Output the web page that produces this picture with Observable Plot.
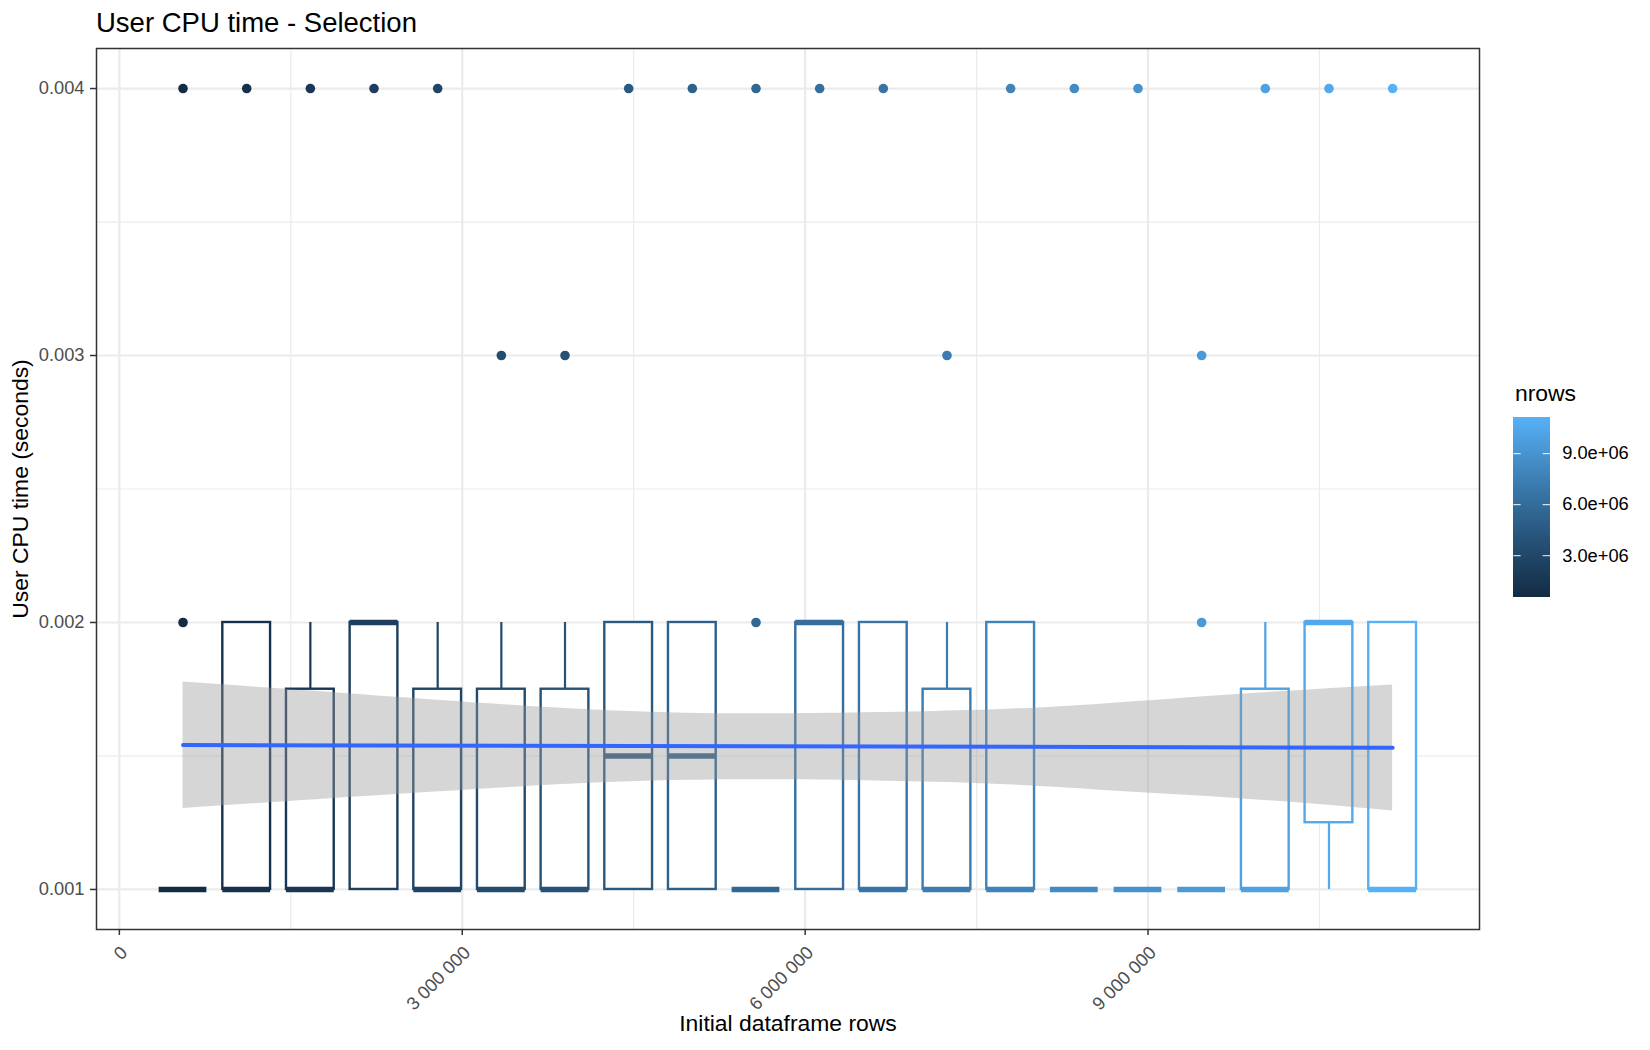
<!DOCTYPE html>
<html><head><meta charset="utf-8">
<script src="https://cdn.jsdelivr.net/npm/d3@7"></script>
<script src="https://cdn.jsdelivr.net/npm/@observablehq/plot@0.6"></script>
<style>
html,body{margin:0;padding:0;background:#fff;}
body{width:1650px;height:1050px;position:relative;overflow:hidden;font-family:"Liberation Sans",Arial,Helvetica,sans-serif;}
#title{position:absolute;left:96px;top:8.7px;font-size:27.5px;line-height:1;color:#000;white-space:nowrap;}
#chart{position:absolute;left:0;top:0;}
#legend{position:absolute;left:1490px;top:370px;}
#legtitle{position:absolute;left:1515px;top:382px;font-size:22.9px;line-height:1;color:#000;}
</style></head><body>
<div id="chart"></div>
<div id="title">User CPU time - Selection</div>
<div id="legend"></div>
<div id="legtitle">nrows</div>
<script>
// ---- data ----
const nrows = [557000, 1114000, 1671000, 2228000, 2785000, 3342000, 3899000, 4456000, 5013000, 5570000,
               6127000, 6684000, 7241000, 7798000, 8355000, 8912000, 9469000, 10026000, 10583000, 11140000];
const whiskerLow  = [0.001,0.001,0.001,0.001,0.001,0.001,0.001,0.001,0.001,0.001,0.001,0.001,0.001,0.001,0.001,0.001,0.001,0.001,0.001,0.001];
const q1          = [0.001,0.001,0.001,0.001,0.001,0.001,0.001,0.001,0.001,0.001,0.001,0.001,0.001,0.001,0.001,0.001,0.001,0.001,0.00125,0.001];
const median      = [0.001,0.001,0.001,0.002,0.001,0.001,0.001,0.0015,0.0015,0.001,0.002,0.001,0.001,0.001,0.001,0.001,0.001,0.001,0.002,0.001];
const q3          = [0.001,0.002,0.00175,0.002,0.00175,0.00175,0.00175,0.002,0.002,0.001,0.002,0.002,0.00175,0.002,0.001,0.001,0.001,0.00175,0.002,0.002];
const whiskerHigh = [0.001,0.002,0.002,0.002,0.002,0.002,0.002,0.002,0.002,0.001,0.002,0.002,0.002,0.002,0.001,0.001,0.001,0.002,0.002,0.002];

const outlierRows = [557000, 557000, 1114000, 1671000, 2228000, 2785000, 3342000, 3899000, 4456000, 5013000,
                     5570000, 5570000, 6127000, 6684000, 7241000, 7798000, 8355000, 8912000, 9469000, 9469000,
                     10026000, 10583000, 11140000];
const outlierTime = [0.002, 0.004, 0.004, 0.004, 0.004, 0.004, 0.003, 0.003, 0.004, 0.004,
                     0.002, 0.004, 0.004, 0.004, 0.003, 0.004, 0.004, 0.004, 0.002, 0.003,
                     0.004, 0.004, 0.004];

// linear smooth (geom_smooth, method = "lm")
const smoothX  = [557000, 1875000, 3537000, 4648000, 5810000, 7420000, 8585000, 9810000, 11140000];
const smoothLo = [0.001303, 0.001341, 0.001385, 0.001406, 0.001411, 0.001398, 0.001372, 0.001340, 0.001294];
const smoothHi = [0.001777, 0.001737, 0.001687, 0.001664, 0.001658, 0.001670, 0.001694, 0.001731, 0.001766];
const trendX = [557000, 11140000];
const trendY = [0.001541, 0.001531];

const xTicks = [0, 3000000, 6000000, 9000000];
const xMinor = [1500000, 4500000, 7500000, 10500000];
const yTicks = [0.001, 0.002, 0.003, 0.004];
const yMinor = [0.0015, 0.0025, 0.0035];
const legendTicks = [3000000, 6000000, 9000000];

// ---- build tables ----
const boxes = nrows.map((n, i) => ({nrows: n, lo: whiskerLow[i], q1: q1[i], med: median[i], q3: q3[i], hi: whiskerHigh[i]}));
const outliers = outlierRows.map((n, i) => ({nrows: n, time: outlierTime[i]}));
const band = smoothX.map((x, i) => ({x, lo: smoothLo[i], hi: smoothHi[i]}));
const trend = trendX.map((x, i) => ({x, y: trendY[i]}));

const half = 0.375 * (nrows[1] - nrows[0]);
const cmin = d3.min(nrows), cmax = d3.max(nrows);
const colorScale = {type: "linear", domain: [cmin, cmax], range: ["#132B43", "#56B1F7"], interpolate: d3.interpolateLab};
const font = '"Liberation Sans", Arial, Helvetica, sans-serif';
const fmtX = d => d3.format(",")(d).replace(/,/g, " ");
const fmtE = d => d3.format(".1e")(d).replace(/e([+-])(\d)$/, "e$10$2");

const chart = Plot.plot({
  width: 1650, height: 1050,
  marginLeft: 96, marginRight: 171, marginTop: 48, marginBottom: 121,
  style: {fontFamily: font, background: "white", color: "#000", overflow: "visible"},
  x: {domain: [-200000, 11900000]},
  y: {domain: [0.00085, 0.00415]},
  color: colorScale,
  marks: [
    Plot.ruleX(xMinor, {stroke: "#EBEBEB", strokeWidth: 1.2}),
    Plot.ruleY(yMinor, {stroke: "#EBEBEB", strokeWidth: 1.2}),
    Plot.ruleX(xTicks, {stroke: "#EBEBEB", strokeWidth: 2.2}),
    Plot.ruleY(yTicks, {stroke: "#EBEBEB", strokeWidth: 2.2}),
    Plot.ruleX(boxes.filter(d => d.hi > d.q3), {x: "nrows", y1: "q3", y2: "hi", stroke: "nrows", strokeWidth: 2.2}),
    Plot.ruleX(boxes.filter(d => d.lo < d.q1), {x: "nrows", y1: "lo", y2: "q1", stroke: "nrows", strokeWidth: 2.2}),
    Plot.rect(boxes, {x1: d => d.nrows - half, x2: d => d.nrows + half, y1: "q1", y2: "q3", fill: "white", stroke: "nrows", strokeWidth: 2.4}),
    Plot.ruleY(boxes, {y: "med", x1: d => d.nrows - half, x2: d => d.nrows + half, stroke: "nrows", strokeWidth: 5.5}),
    Plot.dot(outliers, {x: "nrows", y: "time", fill: "nrows", r: 4.8}),
    Plot.areaY(band, {x: "x", y1: "lo", y2: "hi", fill: "#999999", fillOpacity: 0.4, curve: "natural"}),
    Plot.lineY(trend, {x: "x", y: "y", stroke: "#3366FF", strokeWidth: 4}),
    Plot.frame({stroke: "#333333", strokeWidth: 1.5}),
    Plot.axisX({ticks: xTicks, tickSize: 6, stroke: "#333333", strokeWidth: 1.5, tickFormat: () => "", label: null}),
    Plot.text(xTicks, {x: d => d, frameAnchor: "bottom", dy: 15, rotate: -45, textAnchor: "end", lineAnchor: "top",
                       text: fmtX, fontSize: 18.3, fill: "#4D4D4D"}),
    Plot.axisY({ticks: yTicks, tickSize: 6, tickPadding: 6, tickFormat: d3.format(".3f"), fontSize: 18.3,
                fill: "#4D4D4D", stroke: "#333333", strokeWidth: 1.5, label: null}),
    Plot.text(["User CPU time (seconds)"], {frameAnchor: "left", dx: -76, rotate: -90, textAnchor: "middle", lineAnchor: "middle",
                                           fontSize: 22.9, fill: "black"}),
    Plot.text(["Initial dataframe rows"], {frameAnchor: "bottom", dy: 101, textAnchor: "middle", fontSize: 22.9, fill: "black"})
  ]
});
document.getElementById("chart").appendChild(chart);

// ---- colour bar legend ----
const steps = 180;
const ramp = d3.range(steps).map(i => [cmin + (cmax - cmin) * i / steps, cmin + (cmax - cmin) * (i + 1) / steps]);
const legend = Plot.plot({
  width: 160, height: 240, margin: 0,
  style: {fontFamily: font, background: "transparent", color: "#000", overflow: "visible"},
  x: {domain: [0, 1], range: [23.3, 60], axis: null},
  y: {domain: [cmin, cmax], range: [226.7, 46.7], axis: null},
  color: colorScale,
  marks: [
    Plot.rect(ramp, {x1: 0, x2: 1, y1: d => d[0], y2: d => d[1], fill: d => (d[0] + d[1]) / 2, shapeRendering: "crispEdges"}),
    Plot.ruleY(legendTicks, {x1: 0, x2: 0.2, stroke: "white", strokeWidth: 1.2, strokeOpacity: 0.8}),
    Plot.ruleY(legendTicks, {x1: 0.8, x2: 1, stroke: "white", strokeWidth: 1.2, strokeOpacity: 0.8}),
    Plot.text(legendTicks, {x: 1, y: d => d, dx: 11.7, textAnchor: "start", text: fmtE, fontSize: 18.3, fill: "black"})
  ]
});
document.getElementById("legend").appendChild(legend);
</script>
</body></html>
